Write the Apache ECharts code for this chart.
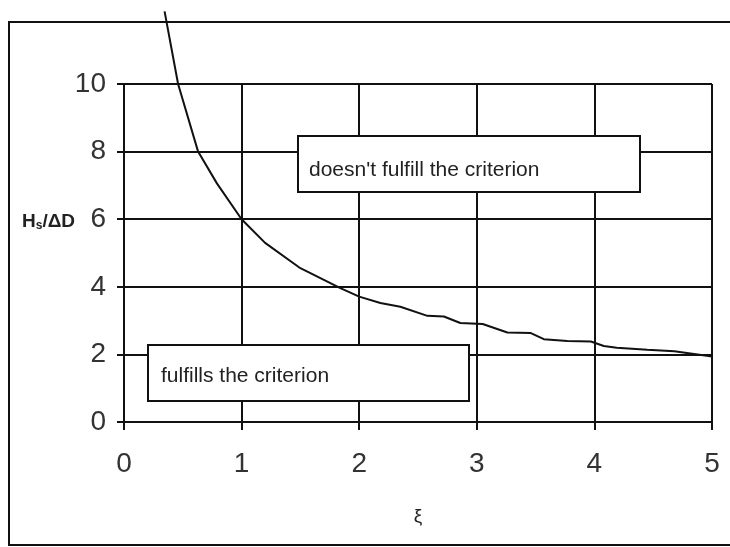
<!DOCTYPE html>
<html>
<head>
<meta charset="utf-8">
<script src="https://cdn.jsdelivr.net/npm/echarts@6/dist/echarts.min.js"></script>
<style>
	html, body { margin: 0; padding: 0; background: #fff; }
	#chart { width: 730px; height: 547px; }
</style>
</head>
<body>
<div id="chart"></div>
<script>
// xi values and H/AD values
var xiValues = [0.345, 0.46, 0.63, 0.79, 1.0, 1.2, 1.5, 1.84, 2.0, 2.18, 2.35, 2.58, 2.72, 2.86, 3.05, 3.26, 3.46, 3.57, 3.77, 3.97, 4.08, 4.19, 4.45, 4.68, 5.0];
var ratioValues = [12.15, 10.0, 8.0, 7.06, 6.0, 5.3, 4.55, 3.96, 3.71, 3.52, 3.41, 3.14, 3.12, 2.93, 2.9, 2.65, 2.63, 2.45, 2.4, 2.38, 2.25, 2.2, 2.14, 2.09, 1.94];
var xTicks = [0, 1, 2, 3, 4, 5];
var yTicks = [0, 2, 4, 6, 8, 10];
var boxTexts = ["doesn't fulfill the criterion", 'fulfills the criterion'];

var curveData = xiValues.map(function(x, i) {
	return [x, ratioValues[i]];
});

var FONT = '"Liberation Sans", Arial, sans-serif';

var chart = echarts.init(document.getElementById('chart'));
chart.setOption({
	backgroundColor : '#fff',
	animation : false,
	grid : {
		left : 124,
		right : 18,
		top : 84,
		bottom : 125
	},
	xAxis : {
		type : 'value',
		min : xTicks[0],
		max : xTicks[xTicks.length - 1],
		interval : 1,
		name : 'ξ',
		nameLocation : 'middle',
		nameGap : 85,
		nameTextStyle : { color : '#222', fontSize : 19, fontFamily : FONT },
		axisLine : { onZero : false, lineStyle : { color : '#111', width : 2 } },
		axisTick : { show : true, length : 8, lineStyle : { color : '#111', width : 2 } },
		axisLabel : { color : '#333', fontSize : 28, fontFamily : FONT, margin : 28 },
		splitLine : { show : true, lineStyle : { color : '#111', width : 2 } }
	},
	yAxis : {
		type : 'value',
		min : yTicks[0],
		max : yTicks[yTicks.length - 1],
		interval : 2,
		axisLine : { show : true, lineStyle : { color : '#111', width : 2 } },
		axisTick : { show : true, length : 7, lineStyle : { color : '#111', width : 2 } },
		axisLabel : { color : '#333', fontSize : 28, fontFamily : FONT, margin : 18 },
		splitLine : { show : true, lineStyle : { color : '#111', width : 2 } }
	},
	series : [ {
		type : 'line',
		data : curveData,
		clip : false,
		showSymbol : false,
		smooth : false,
		lineStyle : { color : '#111', width : 2 }
	} ],
	graphic : [ {
		// outer chart border
		type : 'rect',
		shape : { x : 9, y : 22, width : 740, height : 523 },
		style : { fill : 'none', stroke : '#111', lineWidth : 2 },
		silent : true
	}, {
		type : 'text',
		left : 22,
		top : 212,
		style : {
			text : '{h|H}{s|s}{h|/ΔD}',
			rich : {
				h : { fontSize : 19, fontWeight : 'bold', fontFamily : FONT, fill : '#222' },
				s : { fontSize : 12, fontWeight : 'bold', fontFamily : FONT, fill : '#222', padding : [8, 0, 0, 0] }
			}
		}
	}, {
		type : 'group',
		left : 297,
		top : 135,
		z : 100,
		children : [ {
			type : 'rect',
			z : 100,
			shape : { x : 0, y : 0, width : 342, height : 56 },
			style : { fill : '#fff', stroke : '#111', lineWidth : 2 }
		}, {
			type : 'text',
			z : 101,
			x : 11,
			y : 34,
			style : { text : boxTexts[0], fontSize : 21, fontFamily : FONT, fill : '#222', verticalAlign : 'middle' }
		} ]
	}, {
		type : 'group',
		left : 147,
		top : 344,
		z : 100,
		children : [ {
			type : 'rect',
			z : 100,
			shape : { x : 0, y : 0, width : 321, height : 56 },
			style : { fill : '#fff', stroke : '#111', lineWidth : 2 }
		}, {
			type : 'text',
			z : 101,
			x : 13,
			y : 31,
			style : { text : boxTexts[1], fontSize : 21, fontFamily : FONT, fill : '#222', verticalAlign : 'middle' }
		} ]
	} ]
});
</script>
</body>
</html>
